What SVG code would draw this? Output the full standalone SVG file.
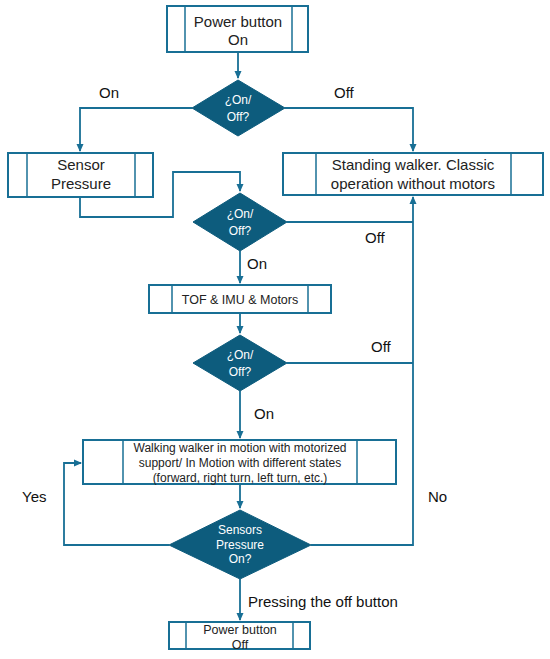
<svg xmlns="http://www.w3.org/2000/svg" width="550" height="659" viewBox="0 0 550 659">
<defs>
<marker id="ah" markerWidth="8" markerHeight="8" refX="7" refY="4" orient="auto" markerUnits="userSpaceOnUse">
<path d="M0,0.5 L8,4 L0,7.5 Z" fill="#186f95"/>
</marker>
<style>
.box{fill:#fff;stroke:#186f95;stroke-width:2}
.in{stroke:#186f95;stroke-width:1.5}
.dia{fill:#0d5c7d;stroke:#0d5c7d;stroke-width:1}
.ln{fill:none;stroke:#186f95;stroke-width:1.8}
.t{font-family:"Liberation Sans",Arial,sans-serif;fill:#222;text-anchor:middle}
.w{font-family:"Liberation Sans",Arial,sans-serif;fill:#fff;text-anchor:middle;font-size:12px}
.lb{font-family:"Liberation Sans",Arial,sans-serif;fill:#111;font-size:15px}
</style>
</defs>
<rect width="550" height="659" fill="#fff"/>
<g id="connectors">
<path class="ln" d="M238,52 V78" marker-end="url(#ah)"/>
<path class="ln" d="M192,108 H80 V151" marker-end="url(#ah)"/>
<path class="ln" d="M285,108 H413 V151" marker-end="url(#ah)"/>
<path class="ln" d="M80,197 V217 H173 V172 H240 V191" marker-end="url(#ah)"/>
<path class="ln" d="M287,222 H413"/>
<path class="ln" d="M240,251 V283" marker-end="url(#ah)"/>
<path class="ln" d="M240,313 V333" marker-end="url(#ah)"/>
<path class="ln" d="M287,363 H413"/>
<path class="ln" d="M240,391 V438" marker-end="url(#ah)"/>
<path class="ln" d="M240,484 V508" marker-end="url(#ah)"/>
<path class="ln" d="M311,545 H413 V197" marker-end="url(#ah)"/>
<path class="ln" d="M169,545 H64 V463 H81" marker-end="url(#ah)"/>
<path class="ln" d="M240,579 V620" marker-end="url(#ah)"/>
<text class="lb" x="99" y="98">On</text>
<text class="lb" x="334" y="98">Off</text>
<text class="lb" x="365" y="243">Off</text>
<text class="lb" x="247" y="269">On</text>
<text class="lb" x="371" y="352">Off</text>
<text class="lb" x="254" y="419">On</text>
<text class="lb" x="22" y="502">Yes</text>
<text class="lb" x="428" y="502">No</text>
<text class="lb" x="248" y="607">Pressing the off button</text>
</g>
<g id="power-on">
<rect class="box" x="167" y="6" width="141" height="46"/>
<line class="in" x1="185" y1="6" x2="185" y2="52"/>
<line class="in" x1="292" y1="6" x2="292" y2="52"/>
<text class="t" x="238" y="27" font-size="15">Power button</text>
<text class="t" x="238" y="45" font-size="15">On</text>
</g>
<g id="dec1">
<polygon class="dia" points="238,80 285,108 238,136 192,108"/>
<text class="w" x="238" y="104">¿On/</text>
<text class="w" x="238" y="121">Off?</text>
</g>
<g id="sensor">
<rect class="box" x="8" y="153" width="145" height="44"/>
<line class="in" x1="27" y1="153" x2="27" y2="197"/>
<line class="in" x1="135" y1="153" x2="135" y2="197"/>
<text class="t" x="81" y="170" font-size="15">Sensor</text>
<text class="t" x="81" y="189" font-size="15">Pressure</text>
</g>
<g id="standing">
<rect class="box" x="283" y="153" width="260" height="42"/>
<line class="in" x1="316" y1="153" x2="316" y2="195"/>
<line class="in" x1="511" y1="153" x2="511" y2="195"/>
<text class="t" x="413" y="170" font-size="15">Standing walker. Classic</text>
<text class="t" x="413" y="189" font-size="15">operation without motors</text>
</g>
<g id="dec2">
<polygon class="dia" points="240,193 287,222 240,251 193,222"/>
<text class="w" x="240" y="218">¿On/</text>
<text class="w" x="240" y="235">Off?</text>
</g>
<g id="tof">
<rect class="box" x="149" y="285" width="182" height="28"/>
<line class="in" x1="172" y1="285" x2="172" y2="313"/>
<line class="in" x1="308" y1="285" x2="308" y2="313"/>
<text class="t" x="240" y="303.500" font-size="12.500">TOF &amp; IMU &amp; Motors</text>
</g>
<g id="dec3">
<polygon class="dia" points="240,335 287,363 240,391 193,363"/>
<text class="w" x="240" y="359">¿On/</text>
<text class="w" x="240" y="376">Off?</text>
</g>
<g id="walking">
<rect class="box" x="83" y="440" width="313" height="44"/>
<line class="in" x1="123" y1="440" x2="123" y2="484"/>
<line class="in" x1="357" y1="440" x2="357" y2="484"/>
<text class="t" x="240" y="452" font-size="12">Walking walker in motion with motorized</text>
<text class="t" x="240" y="467" font-size="12">support/ In Motion with different states</text>
<text class="t" x="240" y="482" font-size="12">(forward, right turn, left turn, etc.)</text>
</g>
<g id="dec4">
<polygon class="dia" points="240,510 311,545 240,579 169,545"/>
<text class="w" x="240" y="534" font-size="11">Sensors</text>
<text class="w" x="240" y="549" font-size="11">Pressure</text>
<text class="w" x="240" y="563" font-size="11">On?</text>
</g>
<g id="power-off">
<rect class="box" x="169" y="622" width="141" height="27"/>
<line class="in" x1="186" y1="622" x2="186" y2="649"/>
<line class="in" x1="293" y1="622" x2="293" y2="649"/>
<text class="t" x="240" y="634" font-size="12.500">Power button</text>
<text class="t" x="240" y="649" font-size="12.500">Off</text>
</g>
</svg>
